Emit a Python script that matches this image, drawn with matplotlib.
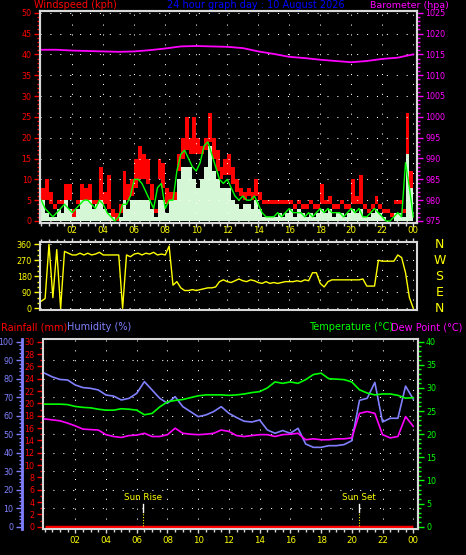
import numpy as np
import matplotlib
matplotlib.use('Agg')
import matplotlib.pyplot as plt
from matplotlib.ticker import MultipleLocator

# ---- data ----
# wind, every 15 min from 00:00 to 24:00 (kph)
t15 = np.arange(97) * 0.25
gust_hi = [8, 10, 7, 4, 5, 5, 9, 9, 3, 5, 9, 8, 9, 5, 5, 13, 7, 11, 3, 2, 4, 12, 9, 10,
           15, 18, 16, 15, 9, 3, 15, 14, 8, 7, 7, 16, 20, 25, 20, 25, 20, 18, 20, 26, 20, 17,
           13, 15, 16, 13, 10, 8, 7, 8, 7, 10, 7, 5, 5, 5, 5, 5, 5, 5, 5, 4, 5, 4, 4, 5,
           4, 4, 9, 5, 6, 4, 4, 5, 4, 4, 10, 6, 11, 4, 3, 4, 6, 4, 3, 3, 2, 5, 5, 3, 26, 12, 3]
gust_lo = [5, 5, 4, 3, 4, 4, 5, 5, 1, 4, 5, 5, 5, 4, 4, 5, 4, 3, 1, 0, 2, 5, 5, 6,
           8, 10, 10, 9, 5, 2, 10, 8, 4, 5, 5, 12, 15, 17, 16, 16, 16, 16, 17, 19, 15, 12,
           10, 11, 11, 9, 7, 6, 5, 6, 5, 6, 5, 4, 4, 4, 4, 4, 4, 4, 4, 3, 4, 3, 3, 4,
           3, 3, 4, 4, 4, 3, 3, 4, 3, 3, 4, 4, 4, 3, 2, 3, 4, 3, 2, 2, 1, 4, 4, 2, 12, 6, 2]
wind_avg = [5, 2, 1, 1, 3, 2, 5, 3, 1, 3, 5, 5, 5, 3, 4, 5, 3, 2, 1, 0, 1, 5, 3, 5,
            5, 5, 5, 5, 3, 1, 5, 5, 2, 5, 5, 10, 13, 13, 13, 10, 8, 10, 13, 18, 12, 10,
            8, 8, 8, 5, 4, 3, 4, 4, 3, 5, 3, 1, 1, 1, 1, 2, 1, 2, 3, 1, 3, 2, 1, 2,
            1, 2, 3, 2, 3, 1, 2, 2, 1, 2, 3, 2, 3, 1, 1, 2, 3, 2, 1, 0, 0, 2, 2, 1, 16, 8, 1]
wind_mean = [5, 3, 2, 1, 2, 3, 4, 3, 2, 3, 4, 5, 5, 4, 3, 5, 4, 2, 1, 0, 1, 4, 4, 6,
             10, 10, 9, 7, 5, 3, 8, 9, 3, 5, 5, 12, 16, 17, 15, 13, 12, 14, 18, 19, 16, 13,
             10, 9, 10, 8, 6, 5, 6, 5, 5, 6, 4, 2, 1, 1, 1, 2, 1, 2, 3, 2, 2, 2, 1, 2,
             1, 2, 3, 2, 3, 2, 2, 2, 1, 2, 3, 2, 3, 1, 1, 2, 3, 2, 1, 0, 0, 1, 2, 1, 14, 8, 1]
wind_dir = [40, 55, 360, 60, 330, 0, 320, 310, 300, 300, 310, 300, 310, 300, 305, 315,
            300, 300, 300, 300, 300, 0, 300, 290, 305, 310, 300, 310, 305, 315, 300, 305,
            300, 350, 130, 150, 115, 100, 100, 105, 100, 105, 110, 115, 115, 120, 150, 160,
            150, 145, 155, 165, 155, 150, 160, 155, 145, 140, 150, 140, 145, 140, 145, 150,
            150, 150, 155, 150, 160, 155, 200, 200, 140, 120, 150, 160, 160, 160, 160, 160,
            160, 160, 160, 165, 125, 125, 125, 270, 265, 265, 265, 265, 300, 285, 200, 60, 0]

# barometer, hourly (hPa)
t60 = np.arange(25)
baro = [1016.1, 1016.1, 1015.9, 1015.8, 1015.7, 1015.6, 1015.7, 1016.0, 1016.4, 1016.9,
        1017.0, 1016.9, 1016.8, 1016.5, 1015.7, 1015.1, 1014.4, 1014.1, 1013.7, 1013.4,
        1013.1, 1013.4, 1013.9, 1014.2, 1015.0]

# humidity / temperature / dew point, every 30 min
t30 = np.arange(49) * 0.5
humidity = [83, 81, 79.6, 79.3, 76.6, 75.2, 74.8, 73.9, 71.2, 70.6, 68.5, 69.4, 72.1, 78.4,
            73.9, 69.4, 66.7, 70.3, 64.9, 62.2, 59.5, 60.4, 62.2, 64.9, 61.3, 59, 57, 56.6,
            57.7, 52.3, 50.5, 52, 50.5, 53.2, 44.7, 42.9, 42.9, 43.8, 43.8, 44.4, 46.5, 68.3,
            69.4, 78, 56.6, 58.6, 58.6, 76, 69]
temperature = [26.5, 26.5, 26.5, 26.4, 26.0, 25.8, 25.7, 25.4, 25.2, 25.2, 25.5, 25.4, 25.2,
               24.2, 24.5, 25.9, 27.0, 27.3, 27.5, 27.9, 28.3, 28.5, 28.5, 28.5, 28.4, 28.5,
               28.7, 29.0, 29.2, 30.0, 31.3, 31.0, 31.3, 31.0, 31.8, 32.9, 33.2, 32.0, 31.9,
               31.8, 31.3, 29.6, 28.9, 28.5, 28.7, 28.7, 28.4, 27.8, 27.9]
dew_point = [23.3, 23.1, 22.9, 22.4, 21.8, 21.1, 21.0, 20.9, 19.9, 19.5, 19.3, 19.7, 19.8,
             20.2, 19.5, 19.5, 19.9, 21.3, 20.2, 20.0, 19.9, 20.0, 20.2, 20.9, 20.6, 19.7,
             19.5, 19.7, 19.9, 19.9, 19.5, 19.9, 20.0, 20.2, 18.8, 19.0, 18.8, 18.8, 19.0,
             19.0, 19.2, 24.5, 24.9, 24.5, 19.9, 19.2, 19.5, 23.8, 21.7]
rain_mm = [0.0] * 25

sun_rise = 6 + 26 / 60
sun_set = 20 + 29 / 60
hour_ticks = np.arange(2, 25, 2)
hour_labels = ['%02d' % (h % 24) for h in hour_ticks]

RED = '#ff0000'
MAG = '#ff00ff'
GRN = '#00ff00'
YEL = '#ffff00'
HUM = '#8080ff'
PALE = '#d6f7d6'
FRAME = '#d8d8d8'
DOTS = (0, (1, 8.5))
TS = 5.8  # tick label size

W, H = 466, 555
fig = plt.figure(figsize=(W / 100, H / 100), dpi=100, facecolor='black')
plt.rcParams['font.family'] = 'DejaVu Sans'


def box(ax):
    ax.set_facecolor('black')
    for s in ax.spines.values():
        s.set_color(FRAME)
        s.set_linewidth(1.5)


def hours(ax, top=False, labels=True):
    ax.set_xticks(hour_ticks)
    ax.set_xticklabels(hour_labels if labels else [])
    ax.xaxis.set_minor_locator(MultipleLocator(0.5))
    if top:
        ax.xaxis.tick_top()
    ax.tick_params(axis='x', which='both', colors=FRAME, labelcolor=YEL,
                   labelsize=TS + 0.4, length=3, width=1, pad=2)
    ax.tick_params(axis='x', which='minor', length=2)


def yticks(ax, color, minor):
    ax.yaxis.set_minor_locator(MultipleLocator(minor))
    ax.tick_params(axis='y', which='both', colors=color, labelsize=TS, length=4, width=1, pad=2)
    ax.tick_params(axis='y', which='minor', length=2)


# ---- windspeed / barometer ----
ax1 = fig.add_axes([40 / W, 1 - 223 / H, 377 / W, 212 / H])
box(ax1)
ax1.fill_between(t15, gust_lo, gust_hi, step='post', color=RED, lw=0)
ax1.fill_between(t15, 0, wind_avg, step='post', color=PALE, lw=0)
ax1.plot(t15, wind_mean, color=GRN, lw=1)
ax1.set_xlim(-0.08, 24.24)
ax1.set_ylim(-0.48, 50.4)
ax1.set_yticks(np.arange(0, 51, 5))
yticks(ax1, RED, 1)
hours(ax1, labels=False)
ax1.grid(True, which='major', color='white', ls=DOTS, lw=0.75)

axp = ax1.twinx()
box(axp)
axp.plot(t60, baro, color=MAG, lw=1.3)
axp.set_ylim(974.52, 1025.4)
axp.set_yticks(np.arange(975, 1026, 5))
yticks(axp, MAG, 1)

# ---- wind direction ----
ax2 = fig.add_axes([40 / W, 1 - 310 / H, 377 / W, 68.3 / H])
box(ax2)
ax2.plot(t15, wind_dir, color=YEL, lw=1)
ax2.set_xlim(-0.08, 24.24)
ax2.set_ylim(-9.6, 374.6)
ax2.set_yticks([0, 90, 180, 270, 360])
yticks(ax2, YEL, 30)
hours(ax2, top=True)
ax2.grid(True, which='major', color='white', ls=DOTS, lw=0.75)
for deg, name in zip([360, 270, 180, 90, 0], ['N', 'W', 'S', 'E', 'N']):
    ax2.text(24.24 + 1.45, deg, name, color=YEL, fontsize=9, ha='center', va='center')

# ---- rainfall / humidity / temperature ----
ax3 = fig.add_axes([42.7 / W, 1 - 529 / H, 375 / W, 189.7 / H])
box(ax3)
ax3.plot(t60, rain_mm, color=RED, lw=2.5, solid_capstyle='butt')
ax3.set_xlim(-0.12, 24.29)
ax3.set_ylim(-0.37, 30.39)
ax3.set_yticks(np.arange(0, 31, 2))
yticks(ax3, RED, 1)
hours(ax3)
ax3.grid(True, axis='x', which='major', color='white', ls=DOTS, lw=0.75)

axh = ax3.twinx()
axh.set_facecolor('none')
for s in ['top', 'bottom', 'right']:
    axh.spines[s].set_visible(False)
axh.yaxis.tick_left()
axh.spines['left'].set_position(('outward', 15))
axh.spines['left'].set_color(HUM)
axh.spines['left'].set_linewidth(2)
axh.plot(t30, humidity, color=HUM, lw=1.2)
axh.set_ylim(-1.24, 101.3)
axh.set_yticks(np.arange(0, 101, 10))
yticks(axh, HUM, 2)
axh.grid(True, axis='y', which='major', color='white', ls=DOTS, lw=0.75)
gl = axh.get_ygridlines()
gl[0].set_visible(False)
gl[-1].set_visible(False)

for when, name in [(sun_rise, 'Sun Rise'), (sun_set, 'Sun Set')]:
    axh.plot([when, when], [8.1, 12.3], color='white', lw=1)
    axh.plot([when, when], [0.5, 8.1], color=YEL, lw=0.8, ls=(0, (1, 1.5)))
    axh.text(when, 15.7, name, color=YEL, fontsize=6.3, ha='center', va='center')

axt = ax3.twinx()
axt.set_facecolor('none')
for s in ['top', 'bottom', 'left']:
    axt.spines[s].set_visible(False)
axt.spines['right'].set_color(FRAME)
axt.spines['right'].set_linewidth(1.5)
axt.plot(t30, temperature, color=GRN, lw=1.2)
axt.plot(t30, dew_point, color=MAG, lw=1.2)
axt.set_ylim(-0.5, 40.52)
axt.set_yticks(np.arange(0, 41, 5))
yticks(axt, GRN, 1)

# ---- headings ----
fs = 7
fig.text(34 / W, 1 - 5 / H, 'Windspeed (kph)', color=RED, fontsize=fs, va='center')
fig.text(256 / W, 1 - 5 / H, '24 hour graph day : 10 August 2026', color='#0000ff',
         fontsize=fs, ha='center', va='center')
fig.text(449 / W, 1 - 5 / H, 'Barometer (hpa)', color=MAG, fontsize=6.8, ha='right', va='center')
fig.text(1 / W, 1 - 327 / H, 'Rainfall (mm)', color=RED, fontsize=fs, va='center')
fig.text(67 / W, 1 - 327 / H, 'Humidity (%)', color=HUM, fontsize=fs, va='center')
fig.text(393 / W, 1 - 327 / H, 'Temperature (°C)', color=GRN, fontsize=fs, ha='right', va='center')
fig.text(462 / W, 1 - 327 / H, 'Dew Point (°C)', color=MAG, fontsize=fs, ha='right', va='center')

fig.savefig('out.png', dpi=100, facecolor='black')
